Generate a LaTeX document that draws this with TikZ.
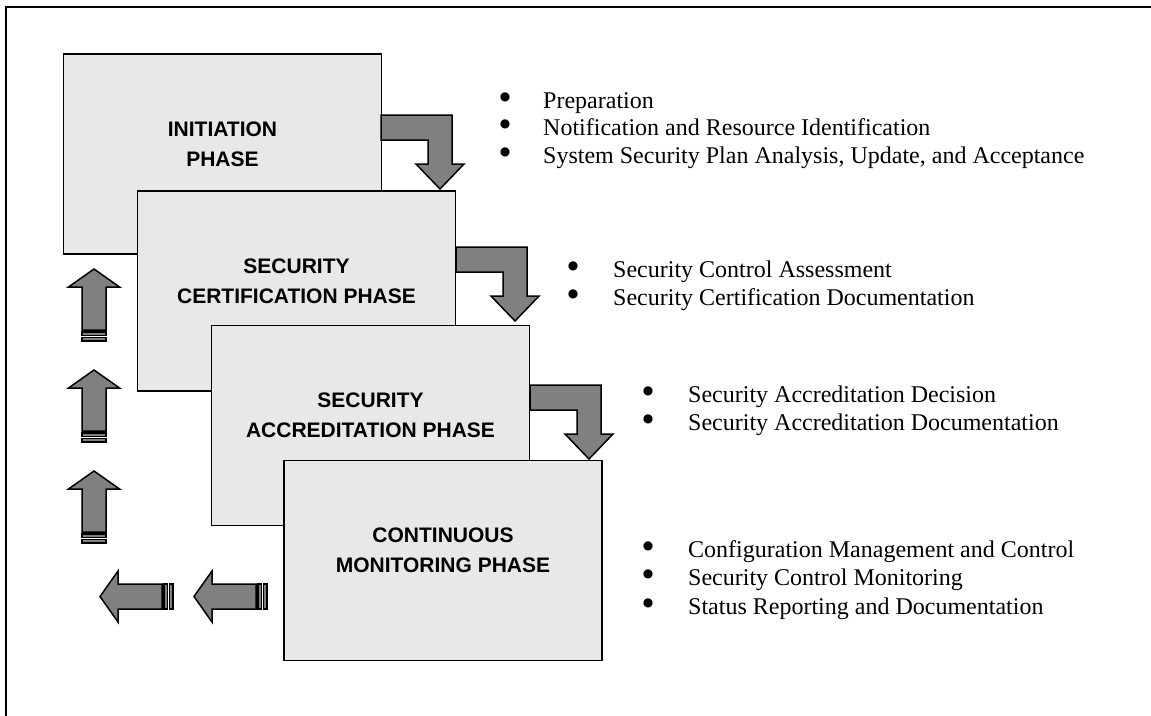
\documentclass[tikz,border=0pt]{standalone}
\usepackage{fontspec}
\setmainfont{Liberation Serif}
\setsansfont{Liberation Sans}
\newfontfamily\bulletfont{DejaVu Sans}
\definecolor{boxgray}{HTML}{E8E8E8}
\definecolor{arrowgray}{HTML}{808080}
\begin{document}
\begin{tikzpicture}[x=1pt,y=-1pt,
  phase/.style={draw=black, line width=1.6pt, fill=boxgray, minimum width=318pt, minimum height=200pt, inner sep=0pt},
  lbl/.style={font=\sffamily\bfseries\fontsize{21}{30}\selectfont, align=center, inner sep=0pt},
  item/.style={font=\fontsize{24}{28}\selectfont, anchor=base west, inner sep=0pt},
  bul/.style={font=\bulletfont\fontsize{12}{14}\selectfont, anchor=center, inner sep=0pt},
  blk/.style={draw=black, line width=1.5pt, fill=arrowgray, line join=miter},
  pics/bentarrow/.style={code={
    \draw[blk] (0,0) -- (71,0) -- (71,49) -- (83,49) -- (59,74) -- (35,49) -- (47,49) -- (47,25) -- (0,25) -- cycle;}},
  pics/uparrow/.style={code={
    \draw[blk] (0,0) -- (25.5,18) -- (12,18) -- (12,61) -- (-12,61) -- (-12,18) -- (-25.5,18) -- cycle;
    \draw[blk] (-12,63) rectangle (12,66.5);
    \draw[blk] (-12,68.5) rectangle (12,72);}},
  pics/leftarrow/.style={code={
    \draw[blk] (0,0) -- (18,-25.5) -- (18,-12.5) -- (62,-12.5) -- (62,12.5) -- (18,12.5) -- (18,25.5) -- cycle;
    \draw[blk] (64,-12.5) rectangle (67.5,12.5);
    \draw[blk] (69.5,-12.5) rectangle (73,12.5);}}
]
\useasboundingbox (0,0) rectangle (1151,715);
\begin{scope}
\clip (0,0) rectangle (1151,715);
\draw[line width=2pt] (6,7) rectangle (1200,760);
\end{scope}

% phase boxes
\node[phase] (init) at (222.5,154) {};
\node[phase] (cert) at (296.5,291) {};
\node[phase] (accr) at (370.5,425.5) {};
\node[phase] (mon)  at (443,560.5) {};

\node[lbl] (initl) at ([yshift=10pt]init.center) {INITIATION\\PHASE};
\node[lbl] (certl) at ([yshift=10pt]cert.center) {SECURITY\\CERTIFICATION PHASE};
\node[lbl] (accrl) at ([yshift=10pt]accr.center) {SECURITY\\ACCREDITATION PHASE};
\node[lbl] (monl)  at ([yshift=10pt]mon.center) {CONTINUOUS\\MONITORING PHASE};

% bent arrows
\pic at (381,115) {bentarrow};
\pic at (456,247) {bentarrow};
\pic at (530,385) {bentarrow};

% up arrows
\pic at (94,269) {uparrow};
\pic at (94,370) {uparrow};
\pic at (94,471) {uparrow};

% left arrows
\pic at (100,596.5) {leftarrow};
\pic at (194,596.5) {leftarrow};

% lists
\node[bul] (b1a) at (505,97) {●};
\node[item] (t1a) at (543,108) {Preparation};
\node[bul] (b1b) at (505,124.5) {●};
\node[item] (t1b) at (543,135.5) {Notification and Resource Identification};
\node[bul] (b1c) at (505,152.5) {●};
\node[item] (t1c) at (543,163.5) {System Security Plan Analysis, Update, and Acceptance};

\node[bul] (b2a) at (573,266) {●};
\node[item] (t2a) at (613,277) {Security Control Assessment};
\node[bul] (b2b) at (573,294) {●};
\node[item] (t2b) at (613,305) {Security Certification Documentation};

\node[bul] (b3a) at (648,391) {●};
\node[item] (t3a) at (688,402) {Security Accreditation Decision};
\node[bul] (b3b) at (648,419) {●};
\node[item] (t3b) at (688,430) {Security Accreditation Documentation};

\node[bul] (b4a) at (648,546) {●};
\node[item] (t4a) at (688,557) {Configuration Management and Control};
\node[bul] (b4b) at (648,574) {●};
\node[item] (t4b) at (688,585) {Security Control Monitoring};
\node[bul] (b4c) at (648,603) {●};
\node[item] (t4c) at (688,614) {Status Reporting and Documentation};
\end{tikzpicture}
\end{document}
